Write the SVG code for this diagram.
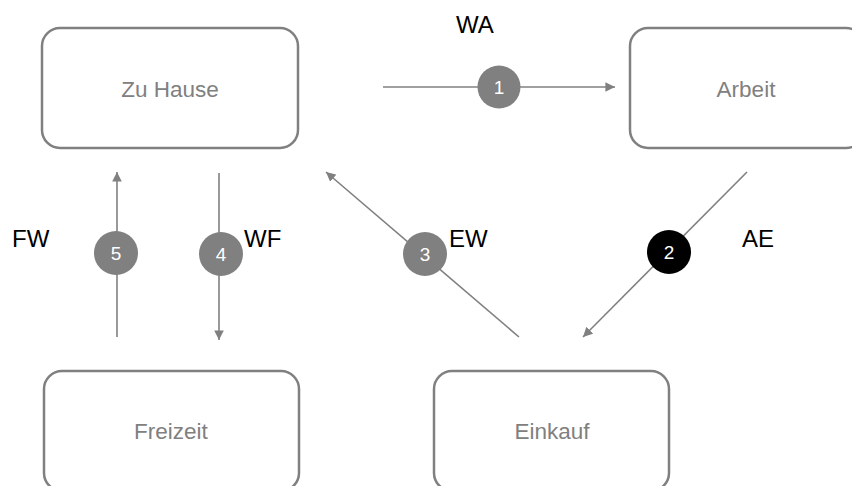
<svg xmlns="http://www.w3.org/2000/svg" width="852" height="486" viewBox="0 0 852 486">
<style>
.box{fill:#fff;stroke:#808080;stroke-width:2.5}
.nt{font-family:"Liberation Sans",Arial,sans-serif;font-size:22.5px;fill:#808080;text-anchor:middle}
.ln{stroke:#808080;stroke-width:1.6;fill:none}
.badge{fill:#808080}
.num{font-family:"Liberation Sans",Arial,sans-serif;font-size:19px;fill:#fff;text-anchor:middle}
.lbl{font-family:"Liberation Sans",Arial,sans-serif;font-size:24px;fill:#000}
</style>
<defs>
<marker id="ah" viewBox="0 0 10 10" refX="10" refY="5" markerWidth="6" markerHeight="6" orient="auto" markerUnits="strokeWidth">
<path d="M0,0 L10,5 L0,10 z" fill="#808080"/>
</marker>
</defs>
<rect width="852" height="486" fill="#fff"/>
<g id="zuhause"><rect class="box" x="42" y="28" width="256" height="120" rx="18"/><text class="nt" x="170" y="97">Zu Hause</text></g>
<g id="arbeit"><rect class="box" x="630" y="28" width="234" height="120" rx="18"/><text class="nt" x="746" y="97">Arbeit</text></g>
<g id="freizeit"><rect class="box" x="44" y="371" width="255" height="120" rx="18"/><text class="nt" x="171" y="439">Freizeit</text></g>
<g id="einkauf"><rect class="box" x="434" y="371" width="235" height="120" rx="18"/><text class="nt" x="552" y="439">Einkauf</text></g>
<g id="connectors">
<line class="ln" x1="383" y1="87" x2="615" y2="87" marker-end="url(#ah)"/>
<line class="ln" x1="747" y1="172" x2="583" y2="337" marker-end="url(#ah)"/>
<line class="ln" x1="519" y1="337" x2="326" y2="172" marker-end="url(#ah)"/>
<line class="ln" x1="219" y1="173" x2="219" y2="340" marker-end="url(#ah)"/>
<line class="ln" x1="117" y1="337" x2="117" y2="172" marker-end="url(#ah)"/>
</g>
<g id="badges">
<circle class="badge" cx="499" cy="87" r="21.5"/><text class="num" x="499" y="94">1</text>
<circle cx="669" cy="252" r="22" fill="#000"/><text class="num" x="669" y="259">2</text>
<circle class="badge" cx="425" cy="254" r="22"/><text class="num" x="425" y="261">3</text>
<circle class="badge" cx="221" cy="254" r="22"/><text class="num" x="221" y="261">4</text>
<circle class="badge" cx="116" cy="253" r="22"/><text class="num" x="116" y="260">5</text>
</g>
<g id="labels">
<text class="lbl" x="456" y="33">WA</text>
<text class="lbl" x="742" y="247">AE</text>
<text class="lbl" x="449" y="247">EW</text>
<text class="lbl" x="244" y="247">WF</text>
<text class="lbl" x="12" y="247">FW</text>
</g>
</svg>
